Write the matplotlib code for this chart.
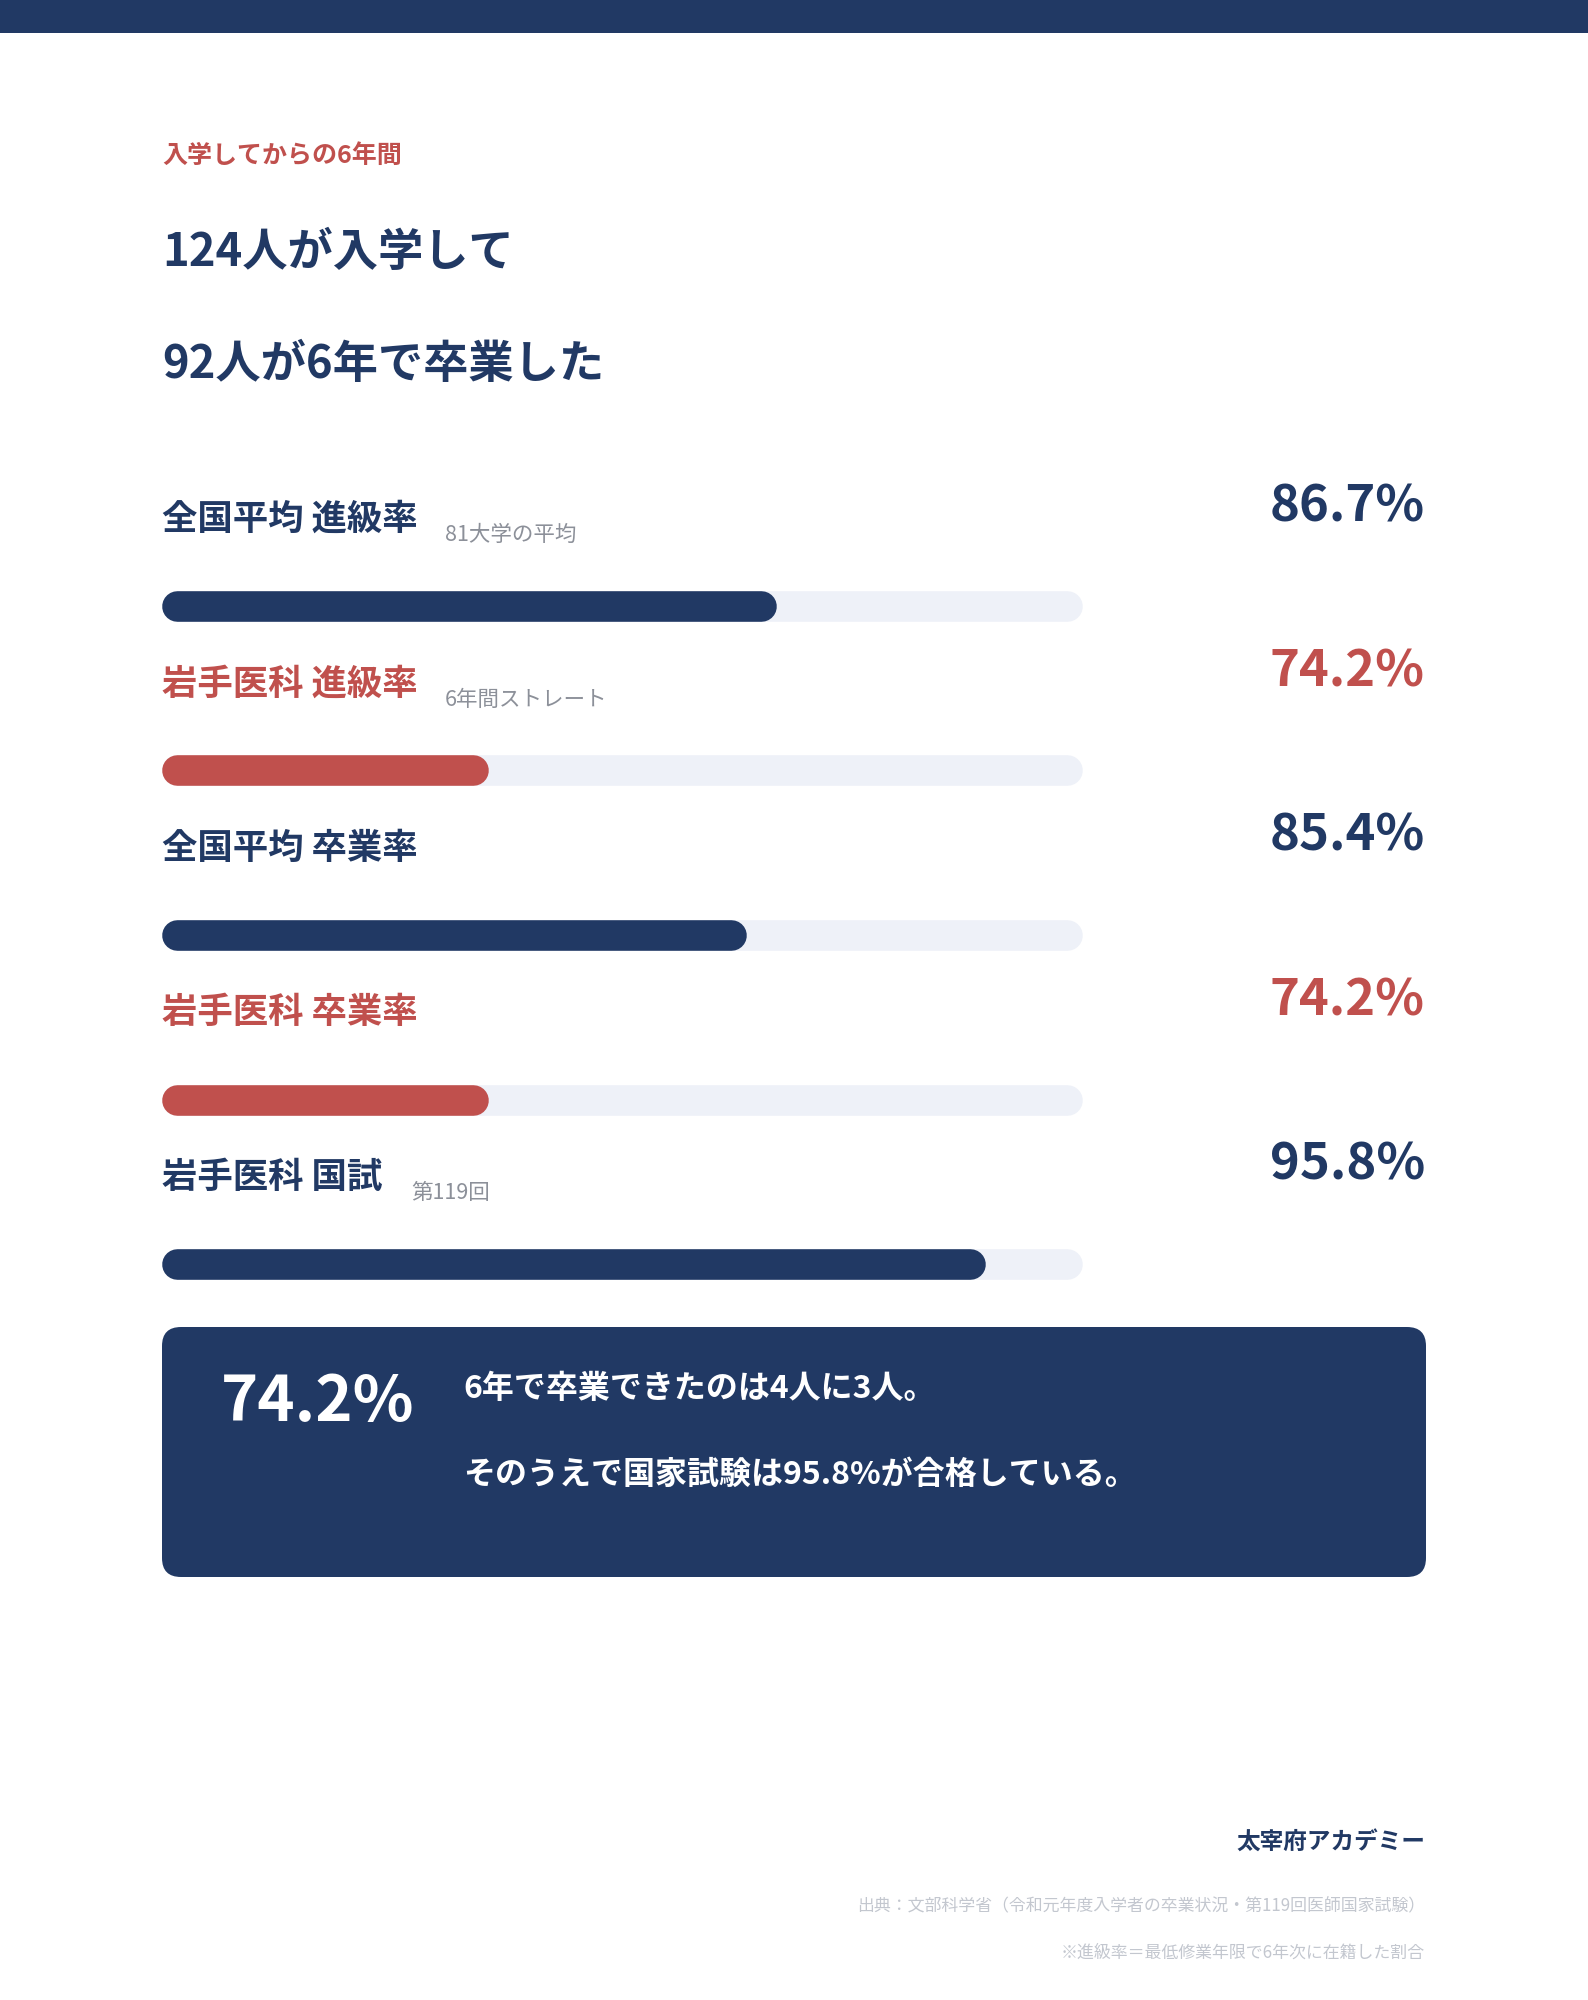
import matplotlib
matplotlib.use('Agg')
import matplotlib.pyplot as plt
from matplotlib.patches import Rectangle, FancyBboxPatch
from matplotlib.transforms import blended_transform_factory

plt.rcParams['font.family'] = ['Noto Sans CJK JP', 'DejaVu Sans']

# ---------------- data ----------------
subtitle = '入学してからの6年間'
title_lines = ['124人が入学して', '92人が6年で卒業した']
labels = ['全国平均 進級率', '岩手医科 進級率', '全国平均 卒業率', '岩手医科 卒業率', '岩手医科 国試']
notes = ['81大学の平均', '6年間ストレート', '', '', '第119回']
values = [86.7, 74.2, 85.4, 74.2, 95.8]
groups = ['national', 'iwate', 'national', 'iwate', 'national']
scale_min, scale_max = 60, 100
callout_value = '74.2%'
callout_lines = ['6年で卒業できたのは4人に3人。', 'そのうえで国家試験は95.8%が合格している。']
brand = '太宰府アカデミー'
source = '出典：文部科学省（令和元年度入学者の卒業状況・第119回医師国家試験）'
footnote = '※進級率＝最低修業年限で6年次に在籍した割合'

# ---------------- style ----------------
NAVY = '#213964'
RED = '#c0504d'
TRACK = '#eef1f8'
NOTE_GRAY = '#8c9099'
SRC_GRAY = '#c3c7cf'
colors = {'national': NAVY, 'iwate': RED}

W, H = 1588, 2000
fig = plt.figure(figsize=(W / 100, H / 100), dpi=100)
fig.patch.set_facecolor('white')

bg = fig.add_axes([0, 0, 1, 1])
bg.set_xlim(0, W)
bg.set_ylim(H, 0)
bg.axis('off')

# top bar
bg.add_patch(Rectangle((0, 0), W, 33, fc=NAVY, ec='none'))

# header texts
bg.text(162, 156, subtitle, color=RED, fontsize=18, fontweight='bold', ha='left', va='center')
bg.text(162, 253, title_lines[0], color=NAVY, fontsize=32.6, fontweight='bold', ha='left', va='center')
bg.text(162, 365, title_lines[1], color=NAVY, fontsize=32.6, fontweight='bold', ha='left', va='center')

# bar axes
bar_left, bar_right = 162, 1082
bar_top, bar_bottom = 606, 1264
ax = fig.add_axes([bar_left / W, 1 - bar_bottom / H, (bar_right - bar_left) / W, (bar_bottom - bar_top) / H])
ax.set_xlim(scale_min, scale_max)
ax.set_ylim(len(values) - 1, 0)
ax.axis('off')

bar_px = 30.6
lw = bar_px * 72 / 100
cap = (bar_px / 2) * (scale_max - scale_min) / (bar_right - bar_left)

trans = blended_transform_factory(bg.transData, ax.transData)
note_x = [445, 445, None, None, 411]

for i, (lab, note, v, g) in enumerate(zip(labels, notes, values, groups)):
    c = colors[g]
    ax.plot([scale_min + cap, scale_max - cap], [i, i], color=TRACK, lw=lw,
            solid_capstyle='round', clip_on=False)
    ax.plot([scale_min + cap, v - cap], [i, i], color=c, lw=lw,
            solid_capstyle='round', clip_on=False)
    bg.text(162, i - 0.527, lab, transform=trans, color=c, fontsize=25.5,
            fontweight='bold', ha='left', va='center')
    if note:
        bg.text(note_x[i], i - 0.43, note, transform=trans, color=NOTE_GRAY,
                fontsize=15.5, ha='left', va='center')
    bg.text(1425, i - 0.60, f'{v:.1f}%', transform=trans, color=c, fontsize=36.5,
            fontweight='bold', ha='right', va='center')

# callout box
bg.add_patch(FancyBboxPatch((162, 1327), 1264, 250,
                            boxstyle='round,pad=0,rounding_size=19', fc=NAVY, ec='none'))
bg.text(221, 1403, callout_value, color='white', fontsize=45.5, fontweight='bold',
        ha='left', va='center')
bg.text(463, 1389, callout_lines[0], color='white', fontsize=23, fontweight='bold',
        ha='left', va='center')
bg.text(463, 1475, callout_lines[1], color='white', fontsize=23, fontweight='bold',
        ha='left', va='center')

# footer
bg.text(1425, 1842, brand, color=NAVY, fontsize=17, fontweight='bold', ha='right', va='center')
bg.text(1425, 1906, source, color=SRC_GRAY, fontsize=12.2, ha='right', va='center')
bg.text(1425, 1953, footnote, color=SRC_GRAY, fontsize=12.2, ha='right', va='center')

fig.savefig('out.png', dpi=100, facecolor='white')
